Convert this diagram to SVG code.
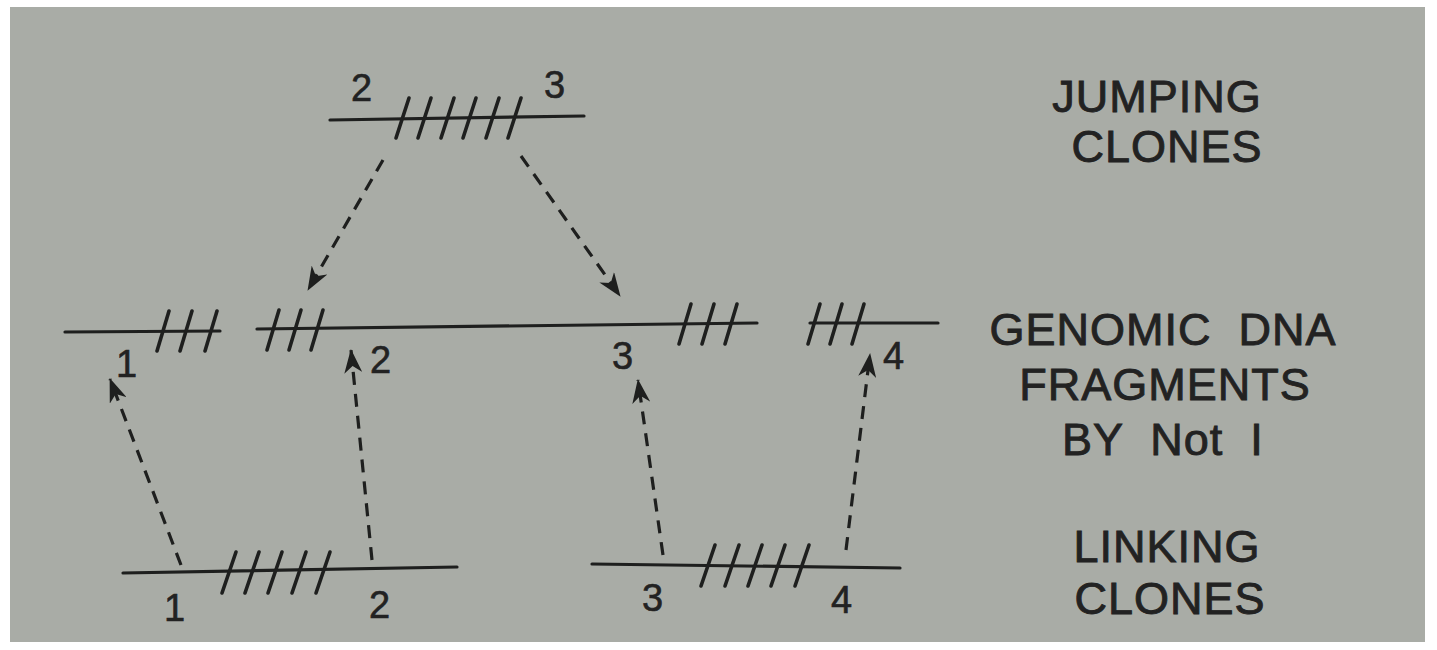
<svg xmlns="http://www.w3.org/2000/svg" width="1437" height="650" viewBox="0 0 1437 650">
<defs>
<style>
.dna{stroke:#1e1f1e;stroke-width:3.2;fill:none;stroke-linecap:round}
.cut{stroke:#1e1f1e;stroke-width:3.6;fill:none;stroke-linecap:round}
.arr{stroke:#1e1f1e;stroke-width:3.2;fill:none;stroke-dasharray:13 9;marker-end:url(#ah)}
.num{font-family:"Liberation Sans",Arial,sans-serif;font-size:38px;fill:#222;stroke:#222;stroke-width:0.6}
.lbl{font-family:"Liberation Sans",Arial,sans-serif;font-size:45px;fill:#222;stroke:#222;stroke-width:0.9;letter-spacing:1px;text-anchor:middle;white-space:pre}
</style>
<marker id="ah" viewBox="0 0 24 18" refX="23" refY="9" markerWidth="24" markerHeight="18" markerUnits="userSpaceOnUse" orient="auto">
<path d="M0,0 L24,9 L0,18 L7,9 Z" fill="#1e1f1e"/>
</marker>
</defs>
<rect width="1437" height="650" fill="#ffffff"/>
<rect x="10" y="7" width="1415" height="635" fill="#a9aca6"/>

<g id="jumping-clone">
<line class="dna" x1="330" y1="120" x2="584" y2="116"/>
<g class="cut">
<line x1="396" y1="138" x2="409" y2="98"/>
<line x1="418" y1="138" x2="431" y2="98"/>
<line x1="441" y1="138" x2="454" y2="98"/>
<line x1="463" y1="138" x2="476" y2="98"/>
<line x1="486" y1="138" x2="499" y2="98"/>
<line x1="508" y1="138" x2="521" y2="98"/>
</g>
<text class="num" x="351" y="101">2</text>
<text class="num" x="544" y="98">3</text>
</g>

<g id="genomic-fragments">
<line class="dna" x1="65" y1="332" x2="220" y2="331"/>
<g class="cut">
<line x1="157" y1="351" x2="169" y2="311"/>
<line x1="180" y1="351" x2="192" y2="311"/>
<line x1="205" y1="351" x2="217" y2="311"/>
</g>
<line class="dna" x1="257" y1="329" x2="757" y2="323"/>
<g class="cut">
<line x1="267" y1="350" x2="279" y2="310"/>
<line x1="289" y1="350" x2="301" y2="310"/>
<line x1="311" y1="350" x2="323" y2="310"/>
<line x1="679" y1="344" x2="691" y2="304"/>
<line x1="702" y1="344" x2="714" y2="304"/>
<line x1="725" y1="344" x2="737" y2="304"/>
</g>
<line class="dna" x1="810" y1="323" x2="938" y2="323"/>
<g class="cut">
<line x1="808" y1="344" x2="820" y2="304"/>
<line x1="830" y1="344" x2="842" y2="304"/>
<line x1="852" y1="344" x2="864" y2="304"/>
</g>
<text class="num" x="116" y="377">1</text>
<text class="num" x="370" y="373">2</text>
<text class="num" x="612" y="369">3</text>
<text class="num" x="883" y="369">4</text>
</g>

<g id="linking-clone-1">
<line class="dna" x1="123" y1="573" x2="457" y2="567"/>
<g class="cut">
<line x1="222" y1="593" x2="236" y2="552"/>
<line x1="245" y1="593" x2="259" y2="552"/>
<line x1="268" y1="593" x2="282" y2="552"/>
<line x1="292" y1="593" x2="306" y2="552"/>
<line x1="316" y1="593" x2="330" y2="552"/>
</g>
<text class="num" x="164" y="621">1</text>
<text class="num" x="369" y="618">2</text>
</g>

<g id="linking-clone-2">
<line class="dna" x1="592" y1="564" x2="900" y2="568"/>
<g class="cut">
<line x1="701" y1="586" x2="715" y2="545"/>
<line x1="725" y1="586" x2="739" y2="545"/>
<line x1="748" y1="586" x2="762" y2="545"/>
<line x1="771" y1="586" x2="785" y2="545"/>
<line x1="795" y1="586" x2="809" y2="545"/>
</g>
<text class="num" x="642" y="611">3</text>
<text class="num" x="831" y="613">4</text>
</g>

<g id="connectors">
<line class="arr" x1="383" y1="160" x2="308" y2="290"/>
<line class="arr" x1="521" y1="156" x2="620" y2="296"/>
<line class="arr" x1="181" y1="565" x2="110" y2="379"/>
<line class="arr" x1="372" y1="560" x2="351" y2="350"/>
<line class="arr" x1="663" y1="555" x2="638" y2="380"/>
<line class="arr" x1="846" y1="550" x2="870" y2="354"/>
</g>

<g id="labels">
<text class="lbl" x="1157" y="112">JUMPING</text>
<text class="lbl" x="1167" y="162">CLONES</text>
<text class="lbl" x="1163" y="345">GENOMIC  DNA</text>
<text class="lbl" x="1165" y="400">FRAGMENTS</text>
<text class="lbl" x="1163" y="455">BY  Not  I</text>
<text class="lbl" x="1167" y="562">LINKING</text>
<text class="lbl" x="1170" y="614">CLONES</text>
</g>
</svg>
